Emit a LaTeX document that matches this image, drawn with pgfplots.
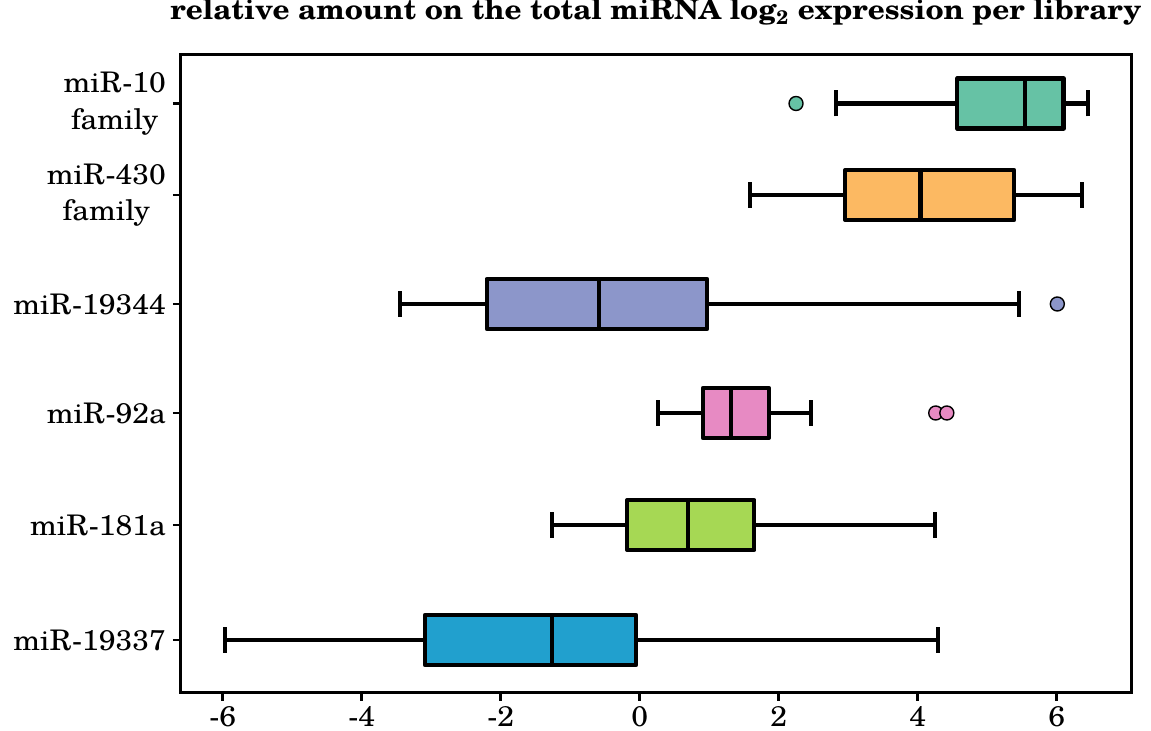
\documentclass[border=0pt]{standalone}
\usepackage{fontspec}
\setmainfont{texgyreschola}[Extension=.otf,UprightFont=*-regular,BoldFont=*-bold,ItalicFont=*-italic,BoldItalicFont=*-bolditalic,FakeStretch=1.06]
\usepackage{pgfplots}
\pgfplotsset{compat=1.18}
\usepgfplotslibrary{statistics}
\definecolor{cA}{HTML}{66C2A5}
\definecolor{cB}{HTML}{FCB962}
\definecolor{cC}{HTML}{8C96CA}
\definecolor{cD}{HTML}{E78AC3}
\definecolor{cE}{HTML}{A6D854}
\definecolor{cF}{HTML}{21A0CE}
\begin{document}
\begin{tikzpicture}
\begin{axis}[name=ax, scale only axis, width=475pt, height=319pt,
  xmin=-6.6, xmax=7.07, ymin=0, ymax=638,
  xtick={-6,-4,-2,0,2,4,6}, xticklabels={-6,-4,-2,0,2,4,6},
  ytick={53,168,280,389,498,589.5},
  yticklabels={miR-19337,miR-181a,miR-92a,miR-19344,{miR-430\\family},{miR-10\\family}},
  yticklabel style={align=center},
  xticklabel style={anchor=base, yshift=-13pt},
  xtick pos=bottom, ytick pos=left,
  tick align=outside, major tick length=4pt, tick style={line width=1.2pt, black},
  axis line style={line width=1.5pt},
  ticklabel style={font=\fontsize{14.2}{18.3}\selectfont},
  title={relative amount on the total miRNA log\textsubscript{2} expression per library},
  title style={font=\fontsize{14}{16}\selectfont\bfseries, at={(0.5,1)}, anchor=base, yshift=11.5pt},
  boxplot/draw direction=x,
  boxplot/box extend=50, boxplot/whisker extend=26,
  clip=false]
\addplot[boxplot prepared={draw position=589.5, lower whisker=2.82, lower quartile=4.57, median=5.55, upper quartile=6.10, upper whisker=6.45},
  draw=black, line width=2.1pt, line join=round, fill=cA, mark=*, mark size=3.5pt, mark options={fill=cA, draw=black, line width=0.7pt}]
  coordinates {(0,2.25)};
\addplot[boxplot prepared={draw position=498, lower whisker=1.59, lower quartile=2.96, median=4.04, upper quartile=5.39, upper whisker=6.36},
  draw=black, line width=2.1pt, line join=round, fill=cB, mark=*, mark size=3.5pt, mark options={fill=cB, draw=black, line width=0.7pt}]
  coordinates {};
\addplot[boxplot prepared={draw position=389, lower whisker=-3.45, lower quartile=-2.20, median=-0.59, upper quartile=0.97, upper whisker=5.46},
  draw=black, line width=2.1pt, line join=round, fill=cC, mark=*, mark size=3.5pt, mark options={fill=cC, draw=black, line width=0.7pt}]
  coordinates {(0,6.01)};
\addplot[boxplot prepared={draw position=280, lower whisker=0.26, lower quartile=0.91, median=1.31, upper quartile=1.86, upper whisker=2.46},
  draw=black, line width=2.1pt, line join=round, fill=cD, mark=*, mark size=3.5pt, mark options={fill=cD, draw=black, line width=0.7pt}]
  coordinates {(0,4.26) (0,4.42)};
\addplot[boxplot prepared={draw position=168, lower whisker=-1.26, lower quartile=-0.18, median=0.70, upper quartile=1.65, upper whisker=4.25},
  draw=black, line width=2.1pt, line join=round, fill=cE, mark=*, mark size=3.5pt, mark options={fill=cE, draw=black, line width=0.7pt}]
  coordinates {};
\addplot[boxplot prepared={draw position=53, lower whisker=-5.97, lower quartile=-3.09, median=-1.26, upper quartile=-0.05, upper whisker=4.29},
  draw=black, line width=2.1pt, line join=round, fill=cF, mark=*, mark size=3.5pt, mark options={fill=cF, draw=black, line width=0.7pt}]
  coordinates {};
\end{axis}
\pgfresetboundingbox
\path ([shift={(-90.5pt,-19pt)}]ax.south west) rectangle ([shift={(10pt,27.5pt)}]ax.north east);
\end{tikzpicture}
\end{document}
